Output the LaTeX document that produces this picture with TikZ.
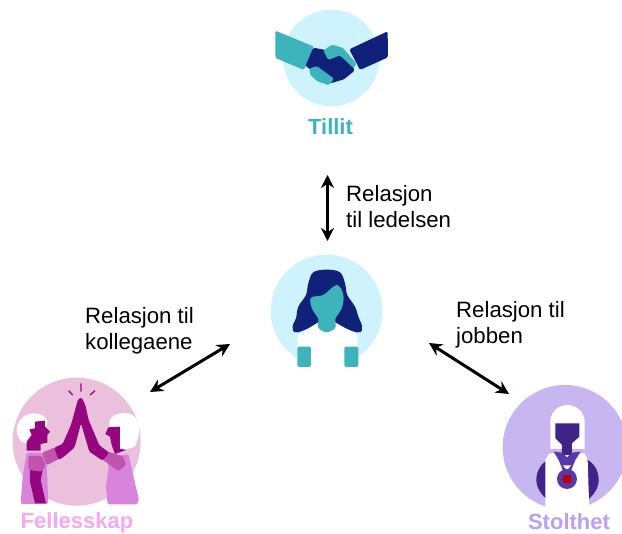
\documentclass[tikz,border=0pt]{standalone}
\usepackage{fontspec}
\usetikzlibrary{arrows.meta}
\setmainfont{Liberation Sans}
\definecolor{skyc}{HTML}{CFF3FC}
\definecolor{navyc}{HTML}{10217A}
\definecolor{tealc}{HTML}{3DB4BC}
\definecolor{pinkc}{HTML}{EAC0DC}
\definecolor{magc}{HTML}{96067F}
\definecolor{lilac}{HTML}{D884DC}
\definecolor{midmag}{HTML}{C354AE}
\definecolor{fellc}{HTML}{F8A8F0}
\definecolor{purpc}{HTML}{C8B6F0}
\definecolor{darkp}{HTML}{3F2386}
\definecolor{medalc}{HTML}{5A37A8}
\definecolor{stolc}{HTML}{B9A0F0}
\tikzset{
  lab/.style={font=\fontsize{22.2}{26}\selectfont,anchor=base west,inner sep=0pt,text=black},
  title/.style={font=\fontsize{22}{26}\selectfont\bfseries,anchor=base,inner sep=0pt},
  both/.style={{Stealth[length=13pt,width=13pt]}-{Stealth[length=13pt,width=13pt]},line width=3pt,black},
  soft/.style={smooth cycle,tension=0.6},
  rc/.style={rounded corners=1.5pt}
}
\begin{document}
\begin{tikzpicture}[x=1pt,y=-1pt]
\useasboundingbox (0,0) rectangle (622,534);
\clip (0,0) rectangle (622,534);
\fill[white] (0,0) rectangle (622,534);
% Tillit icon
\begin{scope}[shift={(260,0)},scale=0.3333]
\fill[skyc] (214,174) circle (145);
\fill[tealc,rc] (46,92) -- (162,140) -- (132,210) -- (46,174) -- cycle;
\fill[navyc,rc] (383,94) -- (384,172) -- (300,210) -- (268,148) -- cycle;
\fill[navyc,rc] (160,143) -- (195,150) -- (240,155) -- (272,185) -- (284,212) -- (252,238) -- (212,250) -- (178,225) -- (136,198) -- cycle;
\fill[tealc,rc] (190,152) -- (215,134) -- (248,143) -- (290,192) -- (280,204) -- (240,166) -- (205,180) -- cycle;
\fill[tealc,rc] (148,206) -- (170,198) -- (222,236) -- (207,256) -- (172,244) -- (150,224) -- cycle;
\end{scope}
% Centre person
\begin{scope}[shift={(260,245)},scale=0.3333]
\fill[skyc] (200,197) circle (168);
\fill[navyc] plot[soft] coordinates {(200,74) (160,82) (145,115) (138,150) (115,185) (108,220) (98,245) (112,262) (200,235) (292,262) (306,245) (295,215) (285,185) (262,150) (255,115) (240,82)};
\fill[white] (113,270) -- (175,232) -- (225,232) -- (292,270) -- (295,368) -- (112,368) -- cycle;
\fill[tealc] plot[soft] coordinates {(153,158) (190,150) (230,120) (250,150) (245,190) (226,222) (226,248) (200,262) (175,248) (175,222) (156,190)};
\fill[tealc,rc] (112,305) -- (153,305) -- (153,366) -- (112,366) -- cycle;
\fill[tealc,rc] (253,305) -- (295,305) -- (295,366) -- (253,366) -- cycle;
\end{scope}
% Fellesskap icon
\begin{scope}[shift={(0,370)},scale=0.3333]
\fill[pinkc] (230,215) circle (192);
\draw[magc,line width=1.3pt] (243,40) -- (243,65) (206,62) -- (218,75) (285,62) -- (270,75);
% left person
\fill[white] plot[soft] coordinates {(50,178) (68,142) (108,130) (142,155) (110,220) (65,214)};
\fill[lilac,rc] (80,248) -- (130,248) -- (140,280) -- (145,402) -- (62,402) -- (68,320) -- cycle;
\fill[magc] (105,155) -- (135,152) -- (135,170) -- (150,185) -- (142,195) -- (142,218) -- (122,222) -- (122,242) -- (80,242) -- (80,215) -- (95,195) -- (88,178) -- (105,175) -- cycle;
\fill[magc] (90,300) -- (128,300) -- (122,330) -- (138,400) -- (105,400) -- (90,335) -- cycle;
\fill[midmag,rc] (85,258) -- (125,258) -- (138,285) -- (125,305) -- (85,300) -- cycle;
\fill[midmag,rc] (126,248) -- (165,232) -- (180,265) -- (140,286) -- cycle;
% right person
\fill[lilac,rc] (322,262) -- (385,252) -- (417,390) -- (412,403) -- (323,403) -- (318,350) -- (326,295) -- cycle;
\fill[white] plot[soft] coordinates {(328,160) (350,133) (395,133) (417,170) (407,225) (375,238) (345,238)};
\fill[magc] (325,172) -- (360,170) -- (360,236) -- (378,240) -- (345,252) -- (335,225) -- (330,200) -- (316,192) -- cycle;
\fill[midmag,rc] (322,244) -- (370,260) -- (378,285) -- (355,304) -- (303,265) -- cycle;
% arms
\fill[magc,rc] (162,233) -- (188,222) -- (213,165) -- (234,88) -- (245,82) -- (256,105) -- (266,150) -- (298,226) -- (328,248) -- (308,272) -- (268,245) -- (243,160) -- (224,232) -- (192,260) -- (176,270) -- cycle;
\end{scope}
% Stolthet icon
\begin{scope}[shift={(492,380)},scale=0.3333]
\fill[purpc] (219,202) circle (187);
\fill[white] (175,207) -- (175,125) .. controls (175,95) and (200,75) .. (226,75) .. controls (252,75) and (278,95) .. (278,125) -- (278,207) -- cycle;
\fill[darkp] (133,300) .. controls (133,270) and (150,250) .. (168,238) -- (168,362) .. controls (150,345) and (133,325) .. (133,300) -- cycle;
\fill[darkp] (320,300) .. controls (320,270) and (305,250) .. (285,238) -- (285,362) .. controls (305,345) and (320,325) .. (320,300) -- cycle;
\fill[white] (160,392) -- (160,240) -- (172,220) -- (278,220) -- (287,240) -- (292,392) -- cycle;
\fill[darkp] (190,130) -- (262,130) -- (262,170) -- (240,190) -- (240,225) -- (210,225) -- (210,195) -- (190,175) -- cycle;
\fill[medalc] (185,215) -- (210,218) -- (225,232) -- (240,218) -- (266,215) -- (250,240) -- (238,270) -- (212,270) -- (200,240) -- cycle;
\fill[white] (212,256) -- (238,256) -- (225,270) -- cycle;
\fill[medalc] (225,297) circle (30);
\fill[red!75!black] (213,285) rectangle (238,310);
\end{scope}
% titles
\node[title,text=tealc] (tillit) at (330.5,135) {Tillit};
\node[title,text=fellc] (fell) at (77,528.5) {Fellesskap};
\node[title,text=stolc] (stol) at (569,530) {Stolthet};
% labels
\node[lab] (l1a) at (346,202) {Relasjon};
\node[lab] (l1b) at (346,228) {til ledelsen};
\node[lab] (l2a) at (85,324) {Relasjon til};
\node[lab] (l2b) at (85,350) {kollegaene};
\node[lab] (l3a) at (456,318) {Relasjon til};
\node[lab] (l3b) at (456,344) {jobben};
% connectors
\coordinate (topa) at (327.5,175);
\coordinate (topb) at (327.5,241);
\coordinate (lefta) at (150,392);
\coordinate (leftb) at (230,344);
\coordinate (righta) at (429,343);
\coordinate (rightb) at (509,394);
\draw[both] (topa) -- (topb);
\draw[both] (lefta) -- (leftb);
\draw[both] (righta) -- (rightb);
\end{tikzpicture}
\end{document}
